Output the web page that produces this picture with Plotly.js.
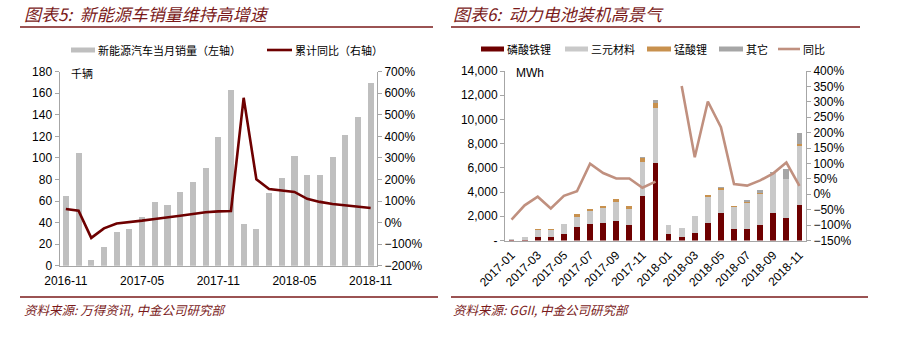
<!DOCTYPE html>
<html><head><meta charset="utf-8">
<script src="https://cdn.plot.ly/plotly-3.0.1.min.js"></script>
<style>html,body{margin:0;padding:0;background:#fff}#chart{width:902px;height:340px}</style>
</head><body><div id="chart"></div>
<script>
// ---- Left chart data: 新能源汽车当月销量 (千辆) & 累计同比 (%)
const months1 = ['2016-11','2016-12','2017-01','2017-02','2017-03','2017-04','2017-05','2017-06','2017-07','2017-08','2017-09','2017-10','2017-11','2017-12','2018-01','2018-02','2018-03','2018-04','2018-05','2018-06','2018-07','2018-08','2018-09','2018-10','2018-11'];
const evSales = [65,105,5.6,17.6,31.3,34.3,45.2,59.1,56,68,78,91,119,163,38.4,34.3,67.7,81.6,101.8,83.8,83.8,100.8,121,137.7,169.2];
const evYoY = [63,55,-71,-27,-4,1,9,17,23,32,40,48,52,54,579,201,156,150,142,110,96,86,80,74,68];
const ticks1 = ['2016-11','2017-05','2017-11','2018-05','2018-11'];

// ---- Right chart data: 动力电池装机 (MWh) & 同比 (%)
const months2 = ['2017-01','2017-02','2017-03','2017-04','2017-05','2017-06','2017-07','2017-08','2017-09','2017-10','2017-11','2017-12','2018-01','2018-02','2018-03','2018-04','2018-05','2018-06','2018-07','2018-08','2018-09','2018-10','2018-11'];
const lfp   = [20,30,330,275,500,1080,1350,1430,1600,1270,3640,6440,500,330,605,1430,2310,990,910,1320,2285,1820,2950];
const ncm   = [100,220,570,620,860,900,1075,1295,1580,1370,2840,4490,740,700,1440,2200,1900,1760,2150,2560,3300,3220,4845];
const lmo   = [0,0,20,20,40,170,165,165,220,250,300,413,80,20,20,110,140,110,110,80,0,80,140];
const other = [0,0,0,0,0,0,0,0,0,0,80,275,0,0,0,0,110,0,165,190,110,770,935];
const batYoY = [-82,-36,-8,-46,-5,10,99,69,51,51,21,41,null,351,120,301,218,33,28,45,68,103,27];
const ticks2 = ['2017-01','2017-03','2017-05','2017-07','2017-09','2017-11','2018-01','2018-03','2018-05','2018-07','2018-09','2018-11'];
const legend1 = ['新能源汽车当月销量（左轴）','累计同比（右轴）'];
const legend2 = ['磷酸铁锂','三元材料','锰酸锂','其它','同比'];

const W = 902, H = 340;
const px = x => x / W, py = y => 1 - y / H;
const RED = '#6E0000', TITLE = '#7A1A1A', AX = '#A6A6A6';
const tickFont = {family: 'Arial, Liberation Sans, sans-serif', size: 12, color: '#000'};
const cjk = 'Noto Sans CJK SC, sans-serif';

const traces = [
  {type: 'bar', x: months1, y: evSales, xaxis: 'x', yaxis: 'y', marker: {color: '#BFBFBF'}, width: 0.48, name: legend1[0], hoverinfo: 'x+y'},
  {type: 'scatter', mode: 'lines', x: months1, y: evYoY, xaxis: 'x', yaxis: 'y2', line: {color: RED, width: 2.6}, name: legend1[1]},
  {type: 'bar', x: months2, y: lfp, xaxis: 'x3', yaxis: 'y3', marker: {color: RED}, width: 0.44, name: legend2[0]},
  {type: 'bar', x: months2, y: ncm, xaxis: 'x3', yaxis: 'y3', marker: {color: '#C9C9C9'}, width: 0.44, name: legend2[1]},
  {type: 'bar', x: months2, y: lmo, xaxis: 'x3', yaxis: 'y3', marker: {color: '#C8914E'}, width: 0.44, name: legend2[2]},
  {type: 'bar', x: months2, y: other, xaxis: 'x3', yaxis: 'y3', marker: {color: '#A6A6A6'}, width: 0.44, name: legend2[3]},
  {type: 'scatter', mode: 'lines', x: months2, y: batYoY, xaxis: 'x3', yaxis: 'y4', line: {color: '#C0907F', width: 2.6}, connectgaps: false, name: legend2[4]}
];

const baseAx = {showgrid: false, zeroline: false, showline: true, linecolor: AX, linewidth: 1, tickfont: tickFont, ticks: 'outside', ticklen: 4, tickcolor: AX, fixedrange: true};

const layout = {
  width: W, height: H, margin: {l: 0, r: 0, t: 0, b: 0}, showlegend: false,
  paper_bgcolor: '#fff', plot_bgcolor: 'rgba(0,0,0,0)', barmode: 'stack',
  xaxis: Object.assign({}, baseAx, {domain: [px(59.5), px(377)], anchor: 'y', type: 'category', range: [-0.5, 24.5], tickvals: ticks1, ticktext: ticks1, ticks: 'outside', ticklen: 4, tickcolor: 'rgba(0,0,0,0)'}),
  xaxis5: Object.assign({}, baseAx, {overlaying: 'x', anchor: 'y', type: 'linear', range: [-0.5, 24.5], tickvals: [-0.5, 5.5, 11.5, 17.5, 23.5], showticklabels: false, showline: false, ticks: 'outside', ticklen: 4}),
  yaxis: Object.assign({}, baseAx, {domain: [py(265.7), py(71.7)], anchor: 'x', range: [0, 180], dtick: 20, tick0: 0}),
  yaxis2: Object.assign({}, baseAx, {overlaying: 'y', side: 'right', anchor: 'x', range: [-200, 700], dtick: 100, tick0: 0, ticksuffix: '%'}),
  xaxis3: Object.assign({}, baseAx, {domain: [px(505), px(806)], anchor: 'y3', type: 'category', range: [-0.5, 22.5], tickvals: ticks2, ticktext: ticks2, tickangle: -45, ticks: 'outside', ticklen: 2, tickcolor: 'rgba(0,0,0,0)'}),
  xaxis6: Object.assign({}, baseAx, {overlaying: 'x3', anchor: 'y3', type: 'linear', range: [-0.5, 22.5], tickvals: [1.5, 3.5, 5.5, 7.5, 9.5, 11.5, 13.5, 15.5, 17.5, 19.5, 21.5], showticklabels: false, showline: false, ticks: 'inside', ticklen: 3}),
  yaxis3: Object.assign({}, baseAx, {domain: [py(240.5), py(71)], anchor: 'x3', range: [0, 14000], tickvals: [0,2000,4000,6000,8000,10000,12000,14000], ticktext: ['-','2,000','4,000','6,000','8,000','10,000','12,000','14,000']}),
  yaxis4: Object.assign({}, baseAx, {overlaying: 'y3', side: 'right', anchor: 'x3', range: [-150, 400], dtick: 50, tick0: 0, ticksuffix: '%'}),
  shapes: [
    {type: 'line', xref: 'paper', yref: 'paper', x0: px(20), x1: px(433), y0: py(27), y1: py(27), line: {color: TITLE, width: 1.5}},
    {type: 'line', xref: 'paper', yref: 'paper', x0: px(451), x1: px(860), y0: py(27), y1: py(27), line: {color: TITLE, width: 1.5}},
    {type: 'line', xref: 'paper', yref: 'paper', x0: px(20), x1: px(438), y0: py(297), y1: py(297), line: {color: TITLE, width: 1.5}},
    {type: 'line', xref: 'paper', yref: 'paper', x0: px(451), x1: px(868), y0: py(297), y1: py(297), line: {color: TITLE, width: 1.5}},
    // legend swatches
    {type: 'rect', xref: 'paper', yref: 'paper', x0: px(71), x1: px(95), y0: py(52.5), y1: py(47.5), fillcolor: '#BFBFBF', line: {width: 0}},
    {type: 'line', xref: 'paper', yref: 'paper', x0: px(267), x1: px(292), y0: py(50), y1: py(50), line: {color: RED, width: 2.6}},
    {type: 'rect', xref: 'paper', yref: 'paper', x0: px(481), x1: px(504), y0: py(51.5), y1: py(46.5), fillcolor: RED, line: {width: 0}},
    {type: 'rect', xref: 'paper', yref: 'paper', x0: px(565), x1: px(588), y0: py(51.5), y1: py(46.5), fillcolor: '#C9C9C9', line: {width: 0}},
    {type: 'rect', xref: 'paper', yref: 'paper', x0: px(647), x1: px(671), y0: py(51.5), y1: py(46.5), fillcolor: '#C8914E', line: {width: 0}},
    {type: 'rect', xref: 'paper', yref: 'paper', x0: px(719), x1: px(743), y0: py(51.5), y1: py(46.5), fillcolor: '#A6A6A6', line: {width: 0}},
    {type: 'line', xref: 'paper', yref: 'paper', x0: px(778), x1: px(800), y0: py(49), y1: py(49), line: {color: '#C0907F', width: 2.6}}
  ],
  annotations: [
    {xref: 'paper', yref: 'paper', x: px(22), y: py(14), xanchor: 'left', yanchor: 'middle', showarrow: false, text: '<i>图表5:  新能源车销量维持高增速</i>', font: {family: cjk, size: 17, color: TITLE}},
    {xref: 'paper', yref: 'paper', x: px(451), y: py(14), xanchor: 'left', yanchor: 'middle', showarrow: false, text: '<i>图表6:  动力电池装机高景气</i>', font: {family: cjk, size: 17, color: TITLE}},
    {xref: 'paper', yref: 'paper', x: px(22), y: py(309), xanchor: 'left', yanchor: 'middle', showarrow: false, text: '<i>资料来源: 万得资讯, 中金公司研究部</i>', font: {family: cjk, size: 12.5, color: TITLE}},
    {xref: 'paper', yref: 'paper', x: px(451), y: py(309), xanchor: 'left', yanchor: 'middle', showarrow: false, text: '<i>资料来源: GGII, 中金公司研究部</i>', font: {family: cjk, size: 12.5, color: TITLE}},
    {xref: 'paper', yref: 'paper', x: px(69), y: py(73), xanchor: 'left', yanchor: 'middle', showarrow: false, text: '千辆', font: {family: cjk, size: 11, color: '#000'}},
    {xref: 'paper', yref: 'paper', x: px(514), y: py(73), xanchor: 'left', yanchor: 'middle', showarrow: false, text: 'MWh', font: tickFont},
    {xref: 'paper', yref: 'paper', x: px(96), y: py(50), xanchor: 'left', yanchor: 'middle', showarrow: false, text: legend1[0], font: {family: cjk, size: 11, color: '#000'}},
    {xref: 'paper', yref: 'paper', x: px(293), y: py(50), xanchor: 'left', yanchor: 'middle', showarrow: false, text: legend1[1], font: {family: cjk, size: 11, color: '#000'}},
    {xref: 'paper', yref: 'paper', x: px(505), y: py(49), xanchor: 'left', yanchor: 'middle', showarrow: false, text: legend2[0], font: {family: cjk, size: 11, color: '#000'}},
    {xref: 'paper', yref: 'paper', x: px(589), y: py(49), xanchor: 'left', yanchor: 'middle', showarrow: false, text: legend2[1], font: {family: cjk, size: 11, color: '#000'}},
    {xref: 'paper', yref: 'paper', x: px(672), y: py(49), xanchor: 'left', yanchor: 'middle', showarrow: false, text: legend2[2], font: {family: cjk, size: 11, color: '#000'}},
    {xref: 'paper', yref: 'paper', x: px(744), y: py(49), xanchor: 'left', yanchor: 'middle', showarrow: false, text: legend2[3], font: {family: cjk, size: 11, color: '#000'}},
    {xref: 'paper', yref: 'paper', x: px(801), y: py(49), xanchor: 'left', yanchor: 'middle', showarrow: false, text: legend2[4], font: {family: cjk, size: 11, color: '#000'}}
  ]
};

Plotly.newPlot('chart', traces, layout, {staticPlot: true, displayModeBar: false});
</script></body></html>
